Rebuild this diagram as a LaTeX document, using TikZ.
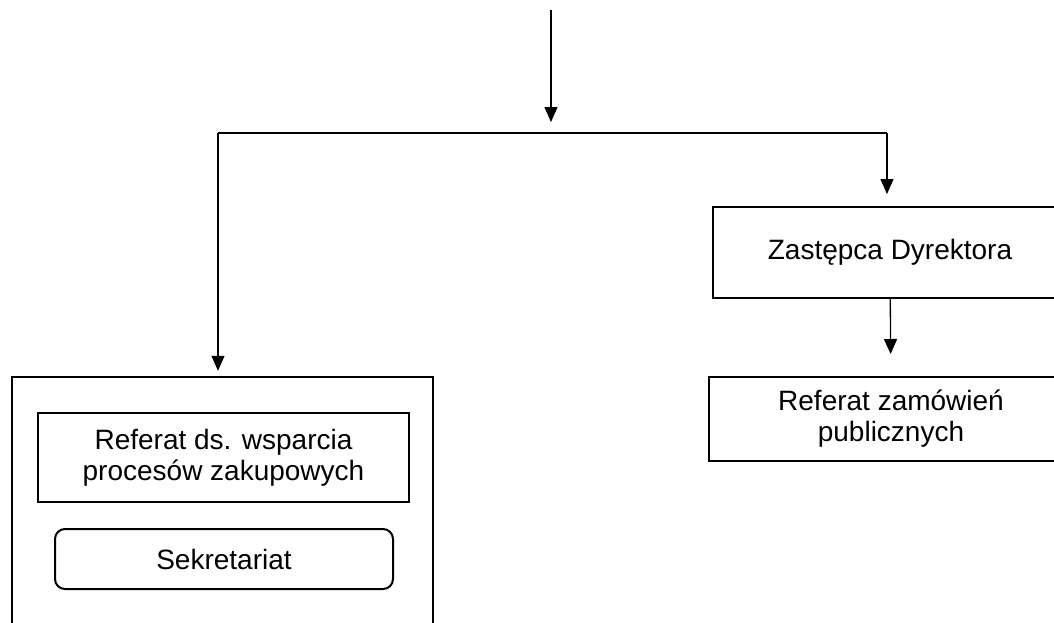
\documentclass[tikz,border=0pt]{standalone}
\usepackage{fontspec}
\setmainfont{Liberation Sans}
\usetikzlibrary{arrows.meta,positioning}

\begin{document}
\begin{tikzpicture}[x=1pt,y=-1pt,>={Triangle[length=15pt,width=13pt]},line width=1.3pt]
    \tikzstyle{box}=[draw,rectangle,line width=2pt,inner sep=0pt,align=center,font=\fontsize{28}{31}\selectfont]
    \tikzstyle{outer box}=[box, line width=2.5pt]
    \useasboundingbox (0,0) rectangle (1054,622);
    \clip (0,0) rectangle (1054,622);
    % left branch: big box with two units inside
      \node[outer box, minimum width=421pt, minimum height=330pt] (dzial) at (222.5,542) {};
      \node[box, minimum width=371pt, minimum height=89pt] (wsparcie) at (223.5,457.5) {Referat ds. wsparcia\\procesów zakupowych};
      \node[box, rounded corners=10pt, minimum width=338pt, minimum height=60pt] (sekretariat) at (224,559) {Sekretariat};
    % right branch
      \node[box, minimum width=354pt, minimum height=91pt] (zastepca) at (890,252.5) {Zastępca Dyrektora};
      \node[box, minimum width=364pt, minimum height=84pt] (zamowienia) at (891,419) {Referat zamówień\\publicznych};
    % connector points
      \coordinate (top) at (551,10);
      \coordinate (topend) at (551,122);
      \coordinate (leftturn) at (218,133);
      \coordinate (rightturn) at (887,133);

      \draw[->] (top) -- (topend);
      \draw (leftturn) -- (rightturn);
      \draw[->, shorten >=5pt] (leftturn) -- (leftturn |- dzial.north);
      \draw[->, shorten >=12pt] (rightturn) -- (rightturn |- zastepca.north);
      \draw[->, shorten >=22pt] (zastepca) -- (zamowienia);
\end{tikzpicture}
\end{document}
